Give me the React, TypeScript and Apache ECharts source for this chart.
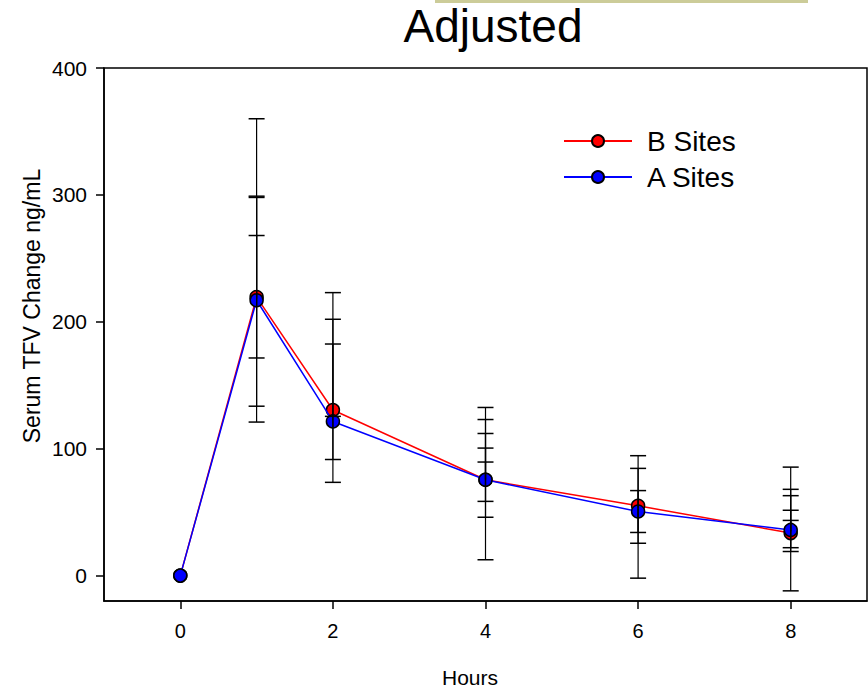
import React, { useEffect, useRef } from "react";
import * as echarts from "echarts";

const hours = [0, 1, 2, 4, 6, 8];
const bSites = [0, 219.5, 130.5, 75.5, 55, 33.5];
const aSites = [0, 217, 121.5, 75.5, 50.5, 36];

const capsAt1h = [360, 299, 298, 268, 171.5, 133.5, 121];
const capsAt2h = [223, 202, 182.5, 125.5, 91.5, 73.5];
const capsAt4h = [132.5, 123, 112, 100.5, 89.5, 58.5, 46, 12.5];
const capsAt6h = [94.5, 84.5, 67, 34, 25.5, -2];
const capsAt8h = [85.5, 68, 63, 51.5, 43.5, 22, 19, -12];

const xTicks = [0, 2, 4, 6, 8];
const yTicks = [0, 100, 200, 300, 400];

const FONT = "'Liberation Sans', Arial, Helvetica, sans-serif";

export default function App() {
  const ref = useRef<HTMLDivElement>(null);
  useEffect(() => {
    if (!ref.current) return;
    const chart = echarts.init(ref.current, null, { renderer: "svg" });

    const capGroups: [number, number[]][] = [
      [1, capsAt1h],
      [2, capsAt2h],
      [4, capsAt4h],
      [6, capsAt6h],
      [8, capsAt8h],
    ];
    const errData: number[][] = [];
    capGroups.forEach(([h, caps]) => {
      const i = hours.indexOf(h);
      const mean = (bSites[i] + aSites[i]) / 2;
      caps.forEach((c) => errData.push([h, mean, c]));
    });

    const option: any = {
      animation: false,
      backgroundColor: "#fff",
      textStyle: { fontFamily: FONT },
      grid: {
        left: 104,
        top: 68,
        right: 1,
        bottom: 87,
        show: true,
        borderColor: "#000",
        borderWidth: 1.5,
        backgroundColor: "transparent",
      },
      legend: {
        orient: "vertical",
        left: 558,
        top: 122,
        itemWidth: 68,
        itemHeight: 15,
        itemGap: 8,
        data: ["B Sites", "A Sites"],
        textStyle: {
          fontFamily: FONT,
          fontSize: 28,
          color: "#000",
          padding: [0, 0, 0, 10],
          lineHeight: 28,
        },
      },
      graphic: [
        {
          type: "rect",
          shape: { x: 435, y: 0, width: 373, height: 3 },
          style: { fill: "#cccc99" },
          silent: true,
        },
        {
          type: "text",
          x: 493,
          y: 49,
          style: {
            text: "Adjusted",
            fontFamily: FONT,
            fontSize: 46,
            fill: "#000",
            textAlign: "center",
            textVerticalAlign: "bottom",
          },
        },
        {
          type: "text",
          x: 470,
          y: 677,
          style: {
            text: "Hours",
            fontFamily: FONT,
            fontSize: 21,
            fill: "#000",
            textAlign: "center",
            textVerticalAlign: "middle",
          },
        },
        {
          type: "text",
          x: 32,
          y: 306,
          rotation: Math.PI / 2,
          style: {
            text: "Serum TFV Change ng/mL",
            fontFamily: FONT,
            fontSize: 23,
            fill: "#000",
            textAlign: "center",
            textVerticalAlign: "middle",
          },
        },
      ],
      xAxis: {
        type: "value",
        min: -1,
        max: 9,
        axisLine: { show: true, onZero: false, lineStyle: { color: "#000", width: 1.5 } },
        axisTick: {
          show: true,
          customValues: xTicks,
          length: 8,
          lineStyle: { color: "#000", width: 1.5 },
        },
        axisLabel: {
          customValues: xTicks,
          fontSize: 20,
          color: "#000",
          fontFamily: FONT,
          margin: 20,
        },
        splitLine: { show: false },
      },
      yAxis: {
        type: "value",
        min: -20,
        max: 400,
        axisLine: { show: true, onZero: false, lineStyle: { color: "#000", width: 1.5 } },
        axisTick: {
          show: true,
          customValues: yTicks,
          length: 8,
          lineStyle: { color: "#000", width: 1.5 },
        },
        axisLabel: {
          customValues: yTicks,
          fontSize: 21,
          color: "#000",
          fontFamily: FONT,
          margin: 17,
        },
        splitLine: { show: false },
      },
      series: [
        {
          name: "B Sites",
          type: "line",
          data: hours.map((h, i) => [h, bSites[i]]),
          symbol: "circle",
          symbolSize: 13,
          lineStyle: { color: "#ff0000", width: 1.5 },
          itemStyle: { color: "#ff0000", borderColor: "#000", borderWidth: 1.5 },
          z: 2,
        },
        {
          name: "A Sites",
          type: "line",
          data: hours.map((h, i) => [h, aSites[i]]),
          symbol: "circle",
          symbolSize: 13,
          lineStyle: { color: "#0000ff", width: 1.5 },
          itemStyle: { color: "#0000ff", borderColor: "#000", borderWidth: 1.5 },
          z: 3,
        },
        {
          name: "errors",
          type: "custom",
          data: errData,
          encode: { x: 0, y: [1, 2] },
          z: 4,
          silent: true,
          renderItem: (params: any, api: any) => {
            const x = api.value(0);
            const from = api.value(1);
            const cap = api.value(2);
            const p0 = api.coord([x, from]);
            const p1 = api.coord([x, cap]);
            return {
              type: "group",
              children: [
                {
                  type: "line",
                  shape: { x1: p0[0], y1: p0[1], x2: p1[0], y2: p1[1] },
                  style: { stroke: "#000", lineWidth: 1.2 },
                },
                {
                  type: "line",
                  shape: { x1: p1[0] - 8, y1: p1[1], x2: p1[0] + 8, y2: p1[1] },
                  style: { stroke: "#000", lineWidth: 1.5 },
                },
              ],
            };
          },
        },
      ],
    };
    chart.setOption(option);
    return () => chart.dispose();
  }, []);

  return (
    <div
      ref={ref}
      style={{ position: "fixed", left: 0, top: 0, width: 868, height: 688 }}
    />
  );
}
